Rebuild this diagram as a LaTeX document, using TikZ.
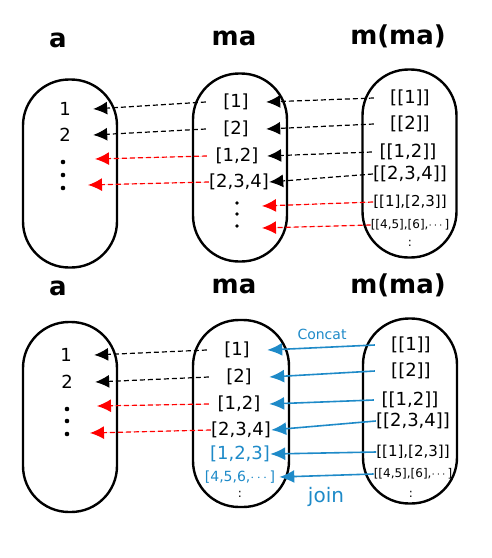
\documentclass[tikz,border=0pt]{standalone}
\usepackage{xcolor}
\usepackage{amsmath}
\usepackage{fontspec}
\setmainfont{DejaVu Sans}
\usepackage{tikz}
\usetikzlibrary{arrows.meta,positioning}
\definecolor{joinblue}{RGB}{30,138,200}
\definecolor{mapred}{RGB}{255,0,0}

\begin{document}
\begin{tikzpicture}[
    x=1pt, y=-1pt,
    >=Latex,
    font=\fontsize{18}{20}\selectfont,
    title/.style={font=\fontsize{26}{28}\selectfont\bfseries},
    oval/.style={
        rectangle,
        draw=black,
        line width=2.4pt,
        rounded corners=46pt,
        minimum width=94pt,
        minimum height=188pt
    },
    aitem/.style={minimum width=56pt, inner sep=0pt},
    maitem/.style={minimum width=60pt, inner sep=0pt},
    mmitem/.style={minimum width=72pt, inner sep=0pt},
    maparrow/.style={line width=1.2pt, dash pattern=on 5pt off 3pt, -{Latex[length=14pt,width=13pt]}},
    redarrow/.style={maparrow, draw=mapred, fill=mapred},
    joinarrow/.style={line width=1.6pt, draw=joinblue, fill=joinblue, -{Latex[length=15pt,width=13pt]}}
]
\useasboundingbox (0,0) rectangle (491,558);

% ---------- top: fmap ----------
% Titles
\node[title] (titleA) at (58,40) {a};
\node[title] (titleMA) at (234,38) {ma};
\node[title] (titleMMA) at (398,36) {m(ma)};

% Sets
\node[oval] (setA) at (70,173.5) {};
\node[oval] (setMA) at (240,167.5) {};
\node[oval] (setMMA) at (409.5,163.5) {};

% Elements of a
\node[aitem] (a1) at (65,109) {1};
\node[aitem] (a2) at (65,135) {2};
\fill (63,162) circle (2.3pt) (63,175) circle (2.3pt) (63,188) circle (2.3pt);
\coordinate (a3) at (95,159);
\coordinate (a4) at (88,185);

% Elements of ma
\node[maitem] (ma1) at (236,102) {[1]};
\node[maitem] (ma2) at (236,129) {[2]};
\node[maitem] (ma3) at (237,156) {[1,2]};
\node[maitem] (ma4) at (239,182) {[2,3,4]};
\fill (237,203) circle (1.8pt) (237,214) circle (1.8pt) (237,226) circle (1.8pt);
\coordinate (ma5) at (262,206);
\coordinate (ma6) at (262,228);

% Elements of m(ma)
\node[mmitem] (mm1) at (410,98) {[[1]]};
\node[mmitem] (mm2) at (410,124) {[[2]]};
\node[mmitem] (mm3) at (408,152) {[[1,2]]};
\node[mmitem] (mm4) at (410,174) {[[2,3,4]]};
\node[mmitem, font=\fontsize{15}{17}\selectfont] (mm5) at (410,202) {[[1],[2,3]]};
\node[mmitem, font=\fontsize{12}{14}\selectfont] (mm6) at (410,225) {[[4,5],[6],$\cdots$]};
\node[font=\fontsize{12}{14}\selectfont] (mmDots) at (410,243) {:};

% Arrows ma -> a
\draw[maparrow] (ma1.west) -- (a1.east);
\draw[maparrow] (ma2.west) -- (a2.east);
\draw[redarrow] (ma3.west) -- (a3);
\draw[redarrow] (ma4.west) -- (a4);

% Arrows m(ma) -> ma
\draw[maparrow] (mm1.west) -- (ma1.east);
\draw[maparrow] (mm2.west) -- (ma2.east);
\draw[maparrow] (mm3.west) -- (ma3.east);
\draw[maparrow] (mm4.west) -- (ma4.east);
\draw[redarrow] (mm5.west) -- (ma5);
\draw[redarrow] (mm6.west) -- (ma6);

% ---------- bottom: join ----------
% Titles
\node[title] (titleA2) at (58,288) {a};
\node[title] (titleMA2) at (234,286) {ma};
\node[title] (titleMMA2) at (398,285) {m(ma)};

% Sets
\node[oval, minimum height=190pt] (setA2) at (70,417) {};
\node[oval, minimum width=96pt, minimum height=187pt] (setMA2) at (241,413.5) {};
\node[oval, minimum height=185pt] (setMMA2) at (410,411) {};

% Elements of a
\node[aitem] (b1) at (66,355) {1};
\node[aitem] (b2) at (67,382) {2};
\fill (67,409) circle (2.3pt) (67,421) circle (2.3pt) (67,434) circle (2.3pt);
\coordinate (b3) at (97,406);
\coordinate (b4) at (90,433);

% Elements of ma
\node[maitem] (mb1) at (237,350) {[1]};
\node[maitem] (mb2) at (239,377) {[2]};
\node[maitem] (mb3) at (239,404) {[1,2]};
\node[maitem] (mb4) at (241,430) {[2,3,4]};
\node[maitem, text=joinblue] (mb5) at (240,454) {[1,2,3]};
\node[text=joinblue, font=\fontsize{14}{16}\selectfont, inner ysep=0pt, inner xsep=4pt] (mb6) at (240,477) {[4,5,6,$\cdots$]};
\node[font=\fontsize{12}{14}\selectfont] (mbDots) at (240,494) {:};

% Elements of m(ma)
\node[mmitem] (mn1) at (411,345) {[[1]]};
\node[mmitem] (mn2) at (411,371) {[[2]]};
\node[mmitem] (mn3) at (410,400) {[[1,2]]};
\node[mmitem] (mn4) at (413,421) {[[2,3,4]]};
\node[mmitem, font=\fontsize{15}{17}\selectfont] (mn5) at (413,452) {[[1],[2,3]]};
\node[mmitem, font=\fontsize{12}{14}\selectfont] (mn6) at (413,474) {[[4,5],[6],$\cdots$]};
\node[font=\fontsize{12}{14}\selectfont] (mnDots) at (411,494) {:};

% Arrows ma -> a
\draw[maparrow] (mb1.west) -- (b1.east);
\draw[maparrow] (mb2.west) -- (b2.east);
\draw[redarrow] (mb3.west) -- (b3);
\draw[redarrow] (mb4.west) -- (b4);

% Arrows m(ma) -> ma (join)
\draw[joinarrow] (mn1.west) -- (mb1.east);
\draw[joinarrow] (mn2.west) -- (mb2.east);
\draw[joinarrow] (mn3.west) -- (mb3.east);
\draw[joinarrow] (mn4.west) -- (mb4.east);
\draw[joinarrow] (mn5.west) -- (mb5.east);
\draw[joinarrow] (mn6.west) -- (mb6.east);

% Labels
\node[text=joinblue, font=\fontsize{14}{16}\selectfont] (concatLabel) at (322,334) {Concat};
\node[text=joinblue, font=\fontsize{20}{22}\selectfont] (joinLabel) at (326,497) {join};

\end{tikzpicture}
\end{document}
